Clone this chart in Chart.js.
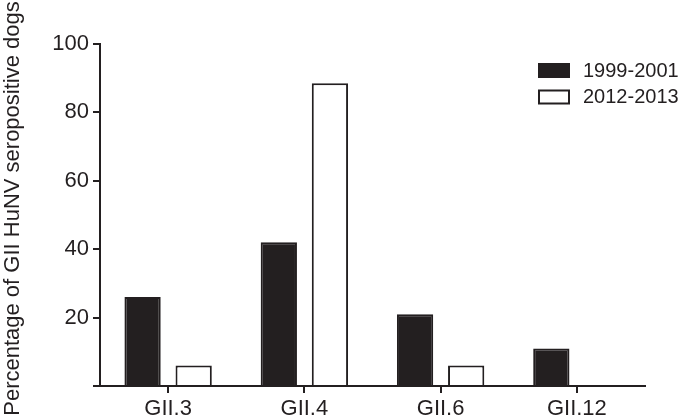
<!DOCTYPE html>
<html>
<head>
<meta charset="utf-8">
<script src="https://cdn.jsdelivr.net/npm/chart.js@4"></script>
<style>
  html, body { margin: 0; padding: 0; background: #ffffff; }
  #wrap { width: 680px; height: 417px; position: relative; }
</style>
</head>
<body>
<div id="wrap"><canvas id="c" width="680" height="417"></canvas></div>
<script>
const categories = ['GII.3', 'GII.4', 'GII.6', 'GII.12'];
const series1999 = [26, 42, 21, 11];
const series2012 = [6, 88.5, 6, 0];
const seriesLabels = ['1999-2001', '2012-2013'];
const yTicks = [0, 20, 40, 60, 80, 100];
const yTitle = 'Percentage of GII HuNV seropositive dogs';

const INK = '#231f20';
const FONT = '"Liberation Sans", Arial, Helvetica, sans-serif';

const titlePlugin = {
  id: 'sideTitle',
  afterDraw(chart) {
    const ctx = chart.ctx;
    ctx.save();
    ctx.translate(19, 208.5);
    ctx.rotate(-Math.PI / 2);
    ctx.font = '22px ' + FONT;
    ctx.fillStyle = INK;
    ctx.textAlign = 'center';
    ctx.textBaseline = 'alphabetic';
    ctx.fillText(yTitle, 0, 0);
    ctx.restore();
  }
};

const legendPlugin = {
  id: 'boxLegend',
  afterDraw(chart) {
    const ctx = chart.ctx;
    ctx.save();
    chart.data.datasets.forEach((ds, i) => {
      const top = 63 + i * 26.5;
      ctx.fillStyle = ds.backgroundColor;
      ctx.fillRect(538, top, 32, 15);
      ctx.strokeStyle = INK;
      ctx.lineWidth = 2;
      ctx.strokeRect(539, top + 1, 30, 13);
      ctx.font = '20px ' + FONT;
      ctx.fillStyle = INK;
      ctx.textAlign = 'left';
      ctx.textBaseline = 'middle';
      ctx.fillText(ds.label, 583, top + 8);
    });
    ctx.restore();
  }
};

new Chart(document.getElementById('c'), {
  type: 'bar',
  data: {
    labels: categories,
    datasets: [
      { label: seriesLabels[0], data: series1999, backgroundColor: INK, borderColor: INK, borderWidth: 2 },
      { label: seriesLabels[1], data: series2012, backgroundColor: '#ffffff', borderColor: INK, borderWidth: 2 }
    ]
  },
  options: {
    responsive: false,
    animation: false,
    devicePixelRatio: 1,
    categoryPercentage: 0.75,
    barPercentage: 0.71,
    layout: { padding: { top: 44, right: 35, left: 0, bottom: 0 } },
    plugins: {
      legend: { display: false },
      tooltip: { enabled: false }
    },
    scales: {
      x: {
        offset: true,
        grid: { display: true, drawOnChartArea: false, drawTicks: true, tickLength: 7, offset: false, color: INK, lineWidth: 2 },
        border: { display: true, color: INK, width: 2 },
        ticks: { color: INK, font: { family: FONT, size: 22 }, padding: 3, maxRotation: 0, autoSkip: false },
        afterFit(scale) { scale.height = 31; }
      },
      y: {
        min: 0,
        max: 100,
        afterBuildTicks(scale) { scale.ticks = yTicks.map(v => ({ value: v })); },
        grid: { display: true, drawOnChartArea: false, drawTicks: true, tickLength: 7, color: INK, lineWidth: 2 },
        border: { display: true, color: INK, width: 2 },
        ticks: {
          color: INK,
          font: { family: FONT, size: 22 },
          padding: 4,
          callback: (v) => (v === 0 ? '' : String(v))
        },
        afterFit(scale) { scale.width = 100; }
      }
    }
  },
  plugins: [titlePlugin, legendPlugin]
});
</script>
</body>
</html>
